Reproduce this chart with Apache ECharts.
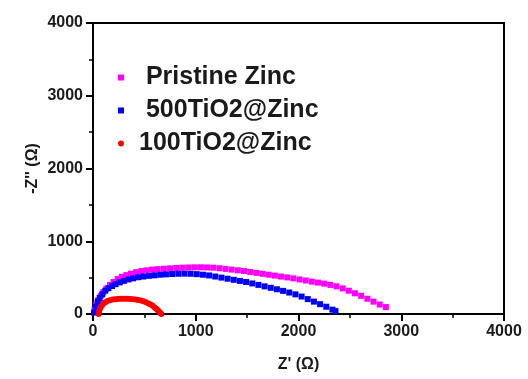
<!DOCTYPE html>
<html>
<head>
<meta charset="utf-8">
<script src="https://cdn.jsdelivr.net/npm/echarts@6/dist/echarts.min.js"></script>
<style>
  html, body { margin: 0; padding: 0; background: #fff; }
  #chart { width: 528px; height: 379px; }
</style>
</head>
<body>
<div id="chart"></div>
<script>
// Nyquist data (Z' , -Z'')
const pristineX = [15, 30, 50, 75, 100, 130, 165, 200, 240, 280, 325, 370, 420, 470, 520, 575, 630, 690, 750, 810, 870, 930, 990, 1050, 1110, 1170, 1230, 1290, 1350, 1410, 1470, 1530, 1590, 1650, 1710, 1770, 1830, 1890, 1950, 2010, 2070, 2130, 2190, 2250, 2310, 2370, 2430, 2490, 2550, 2610, 2670, 2730, 2790, 2850]
const pristineY = [60, 130, 190, 250, 300, 350, 400, 440, 480, 512, 535, 555, 575, 590, 600, 610, 617, 622, 628, 633, 637, 640, 642, 642, 640, 637, 630, 620, 610, 600, 590, 578, 565, 553, 540, 528, 515, 503, 490, 475, 460, 445, 432, 418, 400, 380, 352, 320, 285, 250, 210, 170, 130, 95]

const ti500X = [10, 25, 45, 65, 90, 120, 150, 185, 220, 260, 300, 345, 390, 440, 490, 545, 600, 655, 710, 770, 830, 890, 950, 1010, 1070, 1130, 1190, 1250, 1310, 1370, 1430, 1490, 1550, 1610, 1670, 1730, 1790, 1850, 1910, 1970, 2030, 2090, 2150, 2210, 2270, 2330, 2360]
const ti500Y = [20, 100, 170, 220, 270, 320, 355, 385, 410, 435, 455, 475, 490, 505, 515, 525, 532, 540, 545, 550, 553, 555, 553, 548, 540, 530, 515, 500, 485, 470, 455, 440, 420, 400, 380, 360, 340, 318, 295, 270, 240, 205, 170, 135, 100, 60, 40]

const ti100X = [55, 60, 70, 85, 100, 120, 140, 165, 190, 215, 240, 265, 290, 315, 340, 365, 390, 415, 440, 465, 490, 515, 540, 560, 580, 600, 615, 630, 645, 655, 665]
const ti100Y = [0, 40, 80, 115, 140, 163, 178, 190, 198, 204, 207, 209, 210, 210, 209, 207, 204, 199, 192, 184, 174, 161, 145, 130, 112, 90, 72, 52, 30, 15, 0]

const axisTicks = [0, 1000, 2000, 3000, 4000]

const pairs = (xs, ys) => xs.map((x, i) => [x, ys[i]])

const font = "'Liberation Sans', Arial, sans-serif"
const ink = '#1a1a1a'

const makeAxis = (name, gap) => ({
  type: 'value',
  min: axisTicks[0],
  max: axisTicks[axisTicks.length - 1],
  interval: axisTicks[1] - axisTicks[0],
  name: name,
  nameLocation: 'middle',
  nameGap: gap,
  nameMoveOverlap: false,
  nameTextStyle: { color: ink, fontSize: 16, fontWeight: 'bold', fontFamily: font },
  axisLine: { show: true, onZero: false, lineStyle: { color: '#000', width: 2 } },
  axisTick: { show: true, inside: false, length: 7, lineStyle: { color: '#000', width: 2 } },
  minorTick: { show: true, splitNumber: 2, length: 4, lineStyle: { color: '#000', width: 1.5 } },
  splitLine: { show: false },
  axisLabel: {
    color: ink, fontSize: 16, fontWeight: 'bold', fontFamily: font, margin: 10,
    formatter: (v) => String(v)
  }
})

const chart = echarts.init(document.getElementById('chart'))

chart.setOption({
  backgroundColor: '#fff',
  animation: false,
  grid: {
    left: 93, right: 24, top: 23, bottom: 65,
    show: true, borderColor: '#000', borderWidth: 2, backgroundColor: 'transparent'
  },
  xAxis: makeAxis("Z' (Ω)", 43),
  yAxis: makeAxis("-Z'' (Ω)", 52),
  legend: {
    orient: 'vertical',
    left: 118,
    top: 65,
    padding: 0,
    itemGap: 8,
    itemWidth: 6,
    itemHeight: 6,
    textStyle: { color: ink, fontSize: 25, fontWeight: 'bold', fontFamily: font, padding: [0, 0, 0, 10] },
    data: [' Pristine Zinc', ' 500TiO2@Zinc', '100TiO2@Zinc']
  },
  series: [
    {
      name: ' Pristine Zinc',
      type: 'scatter',
      symbol: 'rect',
      symbolSize: 6,
      itemStyle: { color: '#ff00ff', opacity: 1 },
      data: pairs(pristineX, pristineY)
    },
    {
      name: ' 500TiO2@Zinc',
      type: 'scatter',
      symbol: 'rect',
      symbolSize: 6,
      itemStyle: { color: '#0000ff', opacity: 1 },
      data: pairs(ti500X, ti500Y)
    },
    {
      name: '100TiO2@Zinc',
      type: 'scatter',
      symbol: 'circle',
      symbolSize: 6,
      itemStyle: { color: '#ff0000', opacity: 1 },
      data: pairs(ti100X, ti100Y)
    }
  ]
})
</script>
</body>
</html>
